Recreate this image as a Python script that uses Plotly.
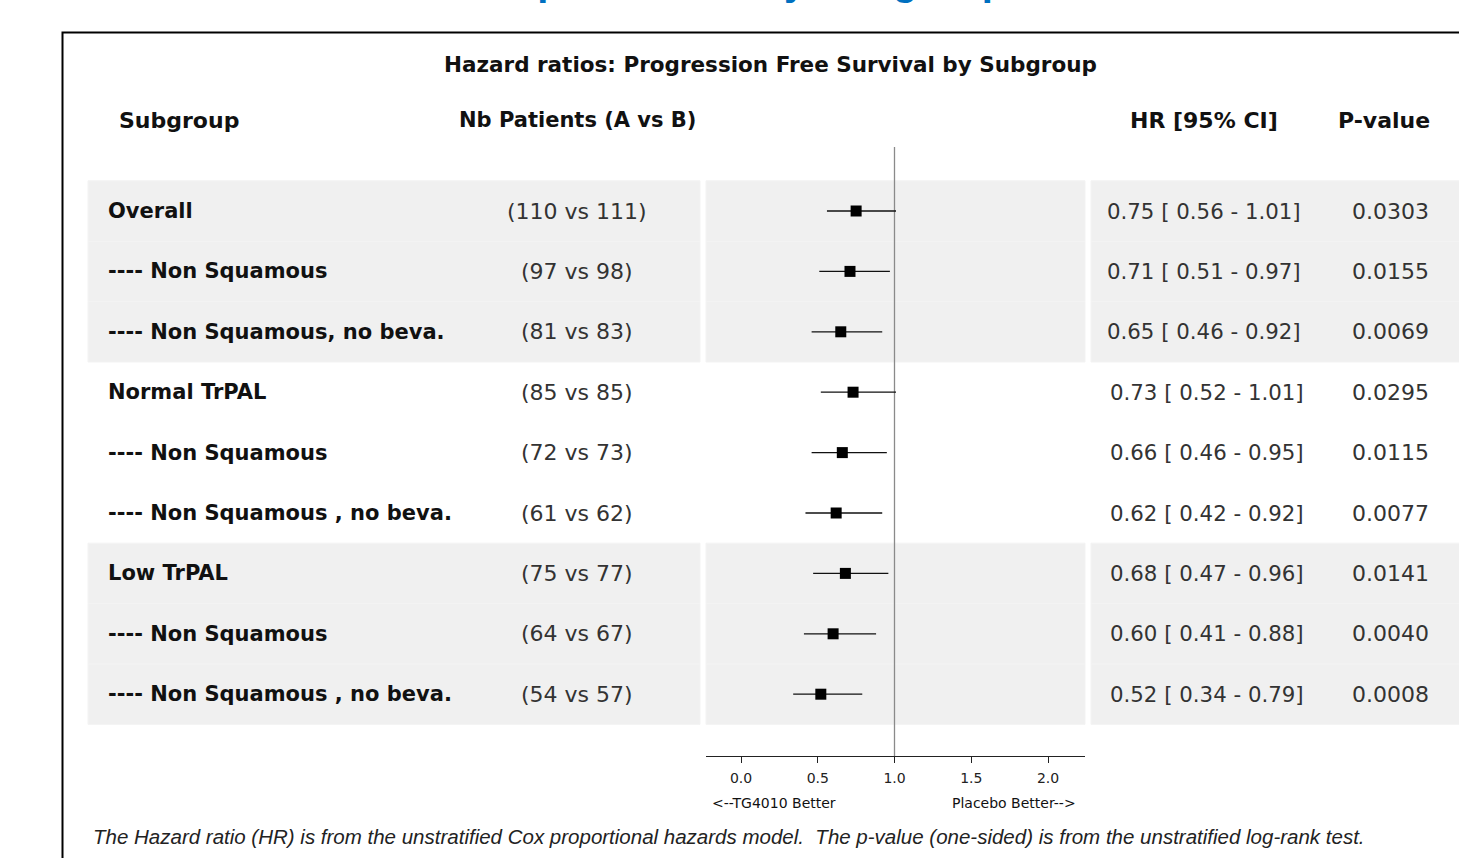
import plotly.graph_objects as go

# ---------------- data ----------------
subgroups = ["Overall", "---- Non Squamous", "---- Non Squamous, no beva.",
             "Normal TrPAL", "---- Non Squamous", "---- Non Squamous , no beva.",
             "Low TrPAL", "---- Non Squamous", "---- Non Squamous , no beva."]
patients = ["(110 vs 111)", "(97 vs 98)", "(81 vs 83)", "(85 vs 85)", "(72 vs 73)",
            "(61 vs 62)", "(75 vs 77)", "(64 vs 67)", "(54 vs 57)"]
hr = [0.75, 0.71, 0.65, 0.73, 0.66, 0.62, 0.68, 0.60, 0.52]
ci_low = [0.56, 0.51, 0.46, 0.52, 0.46, 0.42, 0.47, 0.41, 0.34]
ci_high = [1.01, 0.97, 0.92, 1.01, 0.95, 0.92, 0.96, 0.88, 0.79]
hr_text = ["0.75 [ 0.56 - 1.01]", "0.71 [ 0.51 - 0.97]", "0.65 [ 0.46 - 0.92]",
           "0.73 [ 0.52 - 1.01]", "0.66 [ 0.46 - 0.95]", "0.62 [ 0.42 - 0.92]",
           "0.68 [ 0.47 - 0.96]", "0.60 [ 0.41 - 0.88]", "0.52 [ 0.34 - 0.79]"]
pvalues = ["0.0303", "0.0155", "0.0069", "0.0295", "0.0115", "0.0077",
           "0.0141", "0.0040", "0.0008"]
shaded_groups = [(0, 2), (6, 8)]
tick_vals = [0.0, 0.5, 1.0, 1.5, 2.0]

# ---------------- layout helpers ----------------
W, H = 1459, 858
FONT = "DejaVu Sans, Verdana, sans-serif"
FONT_NOTE = "Liberation Sans, Arial, sans-serif"
def px(x):
    return x / W
def py(y):
    return 1 - y / H

rows = list(range(len(subgroups)))

fig = go.Figure()
fig.add_trace(go.Scatter(
    x=hr, y=rows, mode="markers",
    marker=dict(symbol="square", size=11, color="black"),
    error_x=dict(type="data", symmetric=False,
                 array=[h - m for h, m in zip(ci_high, hr)],
                 arrayminus=[m - l for m, l in zip(hr, ci_low)],
                 width=0, thickness=1.3, color="#111111"),
    showlegend=False, hoverinfo="skip"))

shapes = []
# shaded bands (three panels)
panels = [(88, 700), (706, 1085), (1091, 1470)]
for g0, g1 in shaded_groups:
    for r in range(g0, g1 + 1):
        for a, b in panels:
            shapes.append(dict(type="rect", xref="paper", yref="y",
                               x0=px(a), x1=px(b), y0=r - 0.5, y1=r + 0.5,
                               fillcolor="#F0F0F0", line=dict(color="#F3F3F3", width=1),
                               layer="below"))
# reference line at HR = 1
shapes.append(dict(type="line", xref="x", yref="y domain", x0=1, x1=1, y0=0, y1=1,
                   line=dict(color="#8a8a8a", width=1.3), layer="below"))
# outer frame
shapes.append(dict(type="rect", xref="paper", yref="paper", x0=px(62.5), x1=1.02,
                   y0=-0.02, y1=py(32.5), line=dict(color="black", width=2),
                   fillcolor="rgba(0,0,0,0)"))

ann = []
def add_text(x, y, text, size, bold=False, italic=False, anchor="center",
             color="#111111", family=FONT):
    t = text
    if bold:
        t = "<b>" + t + "</b>"
    if italic:
        t = "<i>" + t + "</i>"
    ann.append(dict(xref="paper", yref="paper", x=px(x), y=py(y), text=t,
                    showarrow=False, xanchor=anchor, yanchor="middle",
                    font=dict(family=family, size=size, color=color)))

# cut-off blue heading at very top
ann.append(dict(xref="paper", yref="paper", x=px(705), y=1 - 5 / H,
                text="<b>Forest plot of PFS by Subgroup</b>", showarrow=False,
                xanchor="center", yanchor="bottom",
                font=dict(family=FONT_NOTE, size=40, color="#0070C0")))

add_text(770, 64, "Hazard ratios: Progression Free Survival by Subgroup", 21.5, bold=True)
add_text(117, 120, "Subgroup", 22, bold=True, anchor="left")
add_text(577, 120, "Nb Patients (A vs B)", 21, bold=True)
add_text(1204, 120, "HR [95% CI]", 22, bold=True)
add_text(1384, 120, "P-value", 22, bold=True)

hr_centers = [1203.5] * 3 + [1206.5] * 6
for r in rows:
    ann.append(dict(xref="paper", yref="y", x=px(106), y=r, text="<b>" + subgroups[r] + "</b>",
                    showarrow=False, xanchor="left", yanchor="middle",
                    font=dict(family=FONT, size=21, color="#111111")))
    ann.append(dict(xref="paper", yref="y", x=px(577), y=r, text=patients[r],
                    showarrow=False, xanchor="center", yanchor="middle",
                    font=dict(family=FONT, size=22, color="#333333")))
    ann.append(dict(xref="paper", yref="y", x=px(hr_centers[r]), y=r, text=hr_text[r],
                    showarrow=False, xanchor="center", yanchor="middle",
                    font=dict(family=FONT, size=21.3, color="#333333")))
    ann.append(dict(xref="paper", yref="y", x=px(1390), y=r, text=pvalues[r],
                    showarrow=False, xanchor="center", yanchor="middle",
                    font=dict(family=FONT, size=22, color="#333333")))

add_text(774, 803, "&lt;--TG4010 Better", 14)
add_text(1014, 803, "Placebo Better--&gt;", 14)
add_text(91, 836, "The Hazard ratio (HR) is from the unstratified Cox proportional hazards model.  "
         "The p-value (one-sided) is from the unstratified log-rank test.", 20.5,
         italic=True, anchor="left", color="#222222", family=FONT_NOTE)

# axis geometry: row i at pixel 211 + 60.4*i
top_px, bot_px = 147, 756
row0, step = 211, 60.4
fig.update_layout(
    width=W, height=H, margin=dict(l=0, r=0, t=0, b=0),
    paper_bgcolor="white", plot_bgcolor="rgba(0,0,0,0)",
    xaxis=dict(domain=[px(706), px(1085)], range=[-0.228, 2.241],
               tickvals=tick_vals, tickformat=".1f", ticks="outside", ticklen=6,
               tickcolor="#222", showline=True, linecolor="#222", linewidth=1.3,
               showgrid=False, zeroline=False, ticklabelstandoff=3,
               tickfont=dict(family=FONT, size=14, color="#222")),
    yaxis=dict(domain=[py(bot_px), py(top_px)],
               range=[(bot_px - row0) / step, (top_px - row0) / step],
               visible=False, showgrid=False, zeroline=False),
    shapes=shapes, annotations=ann, showlegend=False)

fig.write_html("out.html", config={"displayModeBar": False},
               post_script="document.body.style.margin='0';document.body.style.overflow='hidden';")
